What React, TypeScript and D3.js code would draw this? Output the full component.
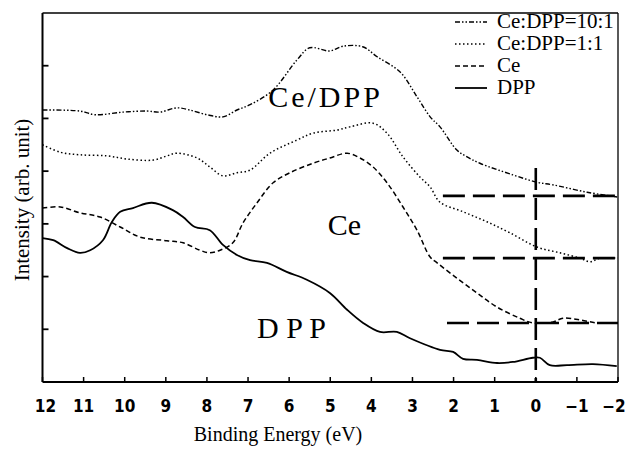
import { useEffect, useRef } from "react";
import * as d3 from "d3";

// binding energy (eV) / intensity (arb. unit)
const ratio10E = [12.0, 11.09, 10.72, 10.04, 9.46, 9.15, 8.73, 8.42, 8.0, 7.61, 7.27, 6.95, 6.39, 5.81, 5.5, 5.01, 4.69, 4.21, 3.86, 3.3, 2.89, 2.57, 2.33, 1.92, 1.67, 1.36, 0.56, -0.03, -0.42, -1.25, -1.98];
const ratio10I = [5.16, 5.14, 5.07, 5.12, 5.14, 5.12, 5.2, 5.16, 5.07, 5.03, 5.16, 5.26, 5.54, 6.11, 6.34, 6.28, 6.37, 6.36, 6.17, 5.88, 5.41, 5.03, 4.84, 4.4, 4.27, 4.15, 3.93, 3.79, 3.74, 3.6, 3.51];

const ratio1E = [12.0, 11.57, 11.09, 10.43, 9.94, 9.31, 8.97, 8.73, 8.24, 7.93, 7.61, 7.27, 6.95, 6.47, 5.81, 5.42, 4.83, 4.52, 3.96, 3.62, 3.23, 2.82, 2.57, 2.33, 1.77, 1.19, 0.63, -0.03, -0.59, -1.07, -1.32, -1.56, -2.0];
const ratio1I = [4.5, 4.36, 4.31, 4.29, 4.23, 4.21, 4.29, 4.34, 4.25, 4.08, 3.91, 3.97, 4.02, 4.34, 4.59, 4.72, 4.78, 4.84, 4.91, 4.72, 4.27, 3.89, 3.7, 3.41, 3.23, 3.04, 2.83, 2.56, 2.45, 2.35, 2.28, 2.35, 2.35];

const ceE = [12.0, 11.57, 11.09, 10.6, 10.11, 9.63, 8.97, 8.58, 8.17, 7.93, 7.68, 7.37, 7.12, 6.78, 6.39, 5.98, 5.42, 5.01, 4.59, 4.28, 3.96, 3.62, 3.23, 2.89, 2.57, 2.4, 1.92, 1.43, 0.94, 0.39, 0.07, -0.42, -0.66, -1.07, -1.49, -2.0];
const ceI = [3.3, 3.32, 3.21, 3.13, 2.94, 2.75, 2.68, 2.64, 2.5, 2.45, 2.5, 2.64, 3.02, 3.4, 3.78, 3.97, 4.15, 4.25, 4.34, 4.25, 4.08, 3.78, 3.32, 2.88, 2.37, 2.26, 1.97, 1.69, 1.42, 1.21, 1.12, 1.14, 1.21, 1.18, 1.12, 1.12];

const dppE = [12.0, 11.74, 11.4, 11.09, 10.84, 10.53, 10.31, 10.11, 9.8, 9.34, 8.83, 8.58, 8.29, 7.93, 7.61, 7.27, 6.95, 6.54, 6.06, 5.57, 5.01, 4.59, 4.2, 3.79, 3.38, 3.06, 2.33, 2.01, 1.77, 1.43, 0.94, 0.56, 0.07, -0.1, -0.34, -0.76, -1.39, -1.97];
const dppI = [2.73, 2.69, 2.54, 2.45, 2.5, 2.69, 3.04, 3.23, 3.3, 3.4, 3.26, 3.13, 2.94, 2.88, 2.6, 2.41, 2.31, 2.26, 2.09, 1.94, 1.69, 1.37, 1.12, 0.95, 0.95, 0.83, 0.61, 0.57, 0.44, 0.42, 0.36, 0.38, 0.46, 0.46, 0.32, 0.32, 0.34, 0.3];

const seriesNames = ["Ce:DPP=10:1", "Ce:DPP=1:1", "Ce", "DPP"];
const xTicks = [12, 11, 10, 9, 8, 7, 6, 5, 4, 3, 2, 1, 0, -1, -2];
const xTickLabels = ["12", "11", "10", "9", "8", "7", "6", "5", "4", "3", "2", "1", "0", "\u22121", "\u22122"];
const yTicks = [1, 2, 3, 4, 5, 6];

// onset guide lines: level, start energy
const baseLevels = [3.53, 2.35, 1.12];
const baseStarts = [2.26, 2.26, 2.16];
const fermiTop = 4.06;

export default function App() {
  const ref = useRef<SVGSVGElement>(null);

  useEffect(() => {
    if (!ref.current) return;
    const svg = d3.select(ref.current);
    svg.selectAll("*").remove();

    const W = 629;
    const H = 449;
    const x = d3.scaleLinear().domain([12, -2]).range([42.5, 618]);
    const y = d3.scaleLinear().domain([0, 7]).range([382, 13]);

    svg.append("rect").attr("width", W).attr("height", H).attr("fill", "#fff");

    const series = [
      { name: seriesNames[0], e: ratio10E, v: ratio10I, dash: "5,2,1.5,2,1.5,2", w: 1.4 },
      { name: seriesNames[1], e: ratio1E, v: ratio1I, dash: "1.5,2.5", w: 1.5 },
      { name: seriesNames[2], e: ceE, v: ceI, dash: "5,3", w: 1.5 },
      { name: seriesNames[3], e: dppE, v: dppI, dash: null, w: 1.8 },
    ];

    const line = d3
      .line<[number, number]>()
      .x((d) => x(d[0]))
      .y((d) => y(d[1]))
      .curve(d3.curveCatmullRom.alpha(0.5));

    // guide lines
    const guide = svg.append("g").attr("stroke", "#000").attr("stroke-width", 2.6).attr("stroke-dasharray", "22,8").attr("fill", "none");
    baseLevels.forEach((lv, i) => {
      guide.append("line").attr("x1", x(baseStarts[i])).attr("x2", x(-2)).attr("y1", y(lv)).attr("y2", y(lv));
    });
    guide.append("line").attr("x1", x(0)).attr("x2", x(0)).attr("y1", y(fermiTop)).attr("y2", y(0));

    series.forEach((s) => {
      const pts = s.e.map((e, i) => [e, s.v[i]] as [number, number]);
      svg
        .append("path")
        .attr("d", line(pts))
        .attr("fill", "none")
        .attr("stroke", "#000")
        .attr("stroke-width", s.w)
        .attr("stroke-dasharray", s.dash ?? null);
    });

    // frame
    const [x0, x1] = x.range();
    const [y0, y1] = y.range();
    svg.append("line").attr("x1", x0).attr("x2", x1).attr("y1", y1).attr("y2", y1).attr("stroke", "#000").attr("stroke-width", 1.3);
    svg.append("line").attr("x1", x1).attr("x2", x1).attr("y1", y1).attr("y2", y0).attr("stroke", "#000").attr("stroke-width", 1.3);
    svg.append("line").attr("x1", x0).attr("x2", x1).attr("y1", y0).attr("y2", y0).attr("stroke", "#000").attr("stroke-width", 2);
    svg.append("line").attr("x1", x0).attr("x2", x0).attr("y1", y1).attr("y2", y0).attr("stroke", "#000").attr("stroke-width", 2);

    // ticks
    svg
      .selectAll(".xt")
      .data(xTicks)
      .enter()
      .append("line")
      .attr("x1", (d) => x(d))
      .attr("x2", (d) => x(d))
      .attr("y1", y0)
      .attr("y2", y0 - 5)
      .attr("stroke", "#000")
      .attr("stroke-width", 1.5);
    svg
      .selectAll(".yt")
      .data(yTicks)
      .enter()
      .append("line")
      .attr("x1", x0)
      .attr("x2", x0 + 6)
      .attr("y1", (d) => y(d))
      .attr("y2", (d) => y(d))
      .attr("stroke", "#000")
      .attr("stroke-width", 1.8);

    svg
      .selectAll(".xl")
      .data(xTicks)
      .enter()
      .append("text")
      .attr("x", (d) => x(d) + (d === 12 ? 3 : d === -2 ? -4 : 0))
      .attr("y", 412)
      .attr("text-anchor", "middle")
      .style("font-family", "'Liberation Sans Narrow', 'DejaVu Sans Condensed', sans-serif")
      .style("font-weight", "bold")
      .style("font-size", "17px")
      .text((_, i) => xTickLabels[i]);

    const serif = "'Liberation Serif', 'DejaVu Serif', serif";
    svg
      .append("text")
      .attr("x", 278)
      .attr("y", 441)
      .attr("text-anchor", "middle")
      .style("font-family", serif)
      .style("font-size", "20px")
      .text("Binding Energy (eV)");
    svg
      .append("text")
      .attr("transform", "translate(29,200) rotate(-90)")
      .attr("text-anchor", "middle")
      .style("font-family", serif)
      .style("font-size", "21px")
      .text("Intensity (arb. unit)");

    // annotations
    const ann = [
      { t: "Ce/DPP", e: 6.51, v: 5.22, ls: 3 },
      { t: "Ce", e: 5.06, v: 2.79, ls: 0 },
      { t: "D P P", e: 6.78, v: 0.84, ls: 0 },
    ];
    ann.forEach((a) => {
      svg
        .append("text")
        .attr("x", x(a.e))
        .attr("y", y(a.v))
        .style("font-family", serif)
        .style("font-size", "30px")
        .style("letter-spacing", `${a.ls}px`)
        .text(a.t);
    });

    // legend
    const lg = svg.append("g");
    series.forEach((s, i) => {
      const by = 28 + i * 22;
      lg.append("line")
        .attr("x1", 455)
        .attr("x2", 487)
        .attr("y1", by - 6)
        .attr("y2", by - 6)
        .attr("stroke", "#000")
        .attr("stroke-width", s.w)
        .attr("stroke-dasharray", s.dash ?? null);
      lg.append("text")
        .attr("x", 497)
        .attr("y", by)
        .style("font-family", serif)
        .style("font-size", "21px")
        .text(s.name);
    });
  }, []);

  return (
    <svg
      ref={ref}
      width={629}
      height={449}
      viewBox="0 0 629 449"
      style={{ position: "absolute", left: 0, top: 0 }}
    />
  );
}
